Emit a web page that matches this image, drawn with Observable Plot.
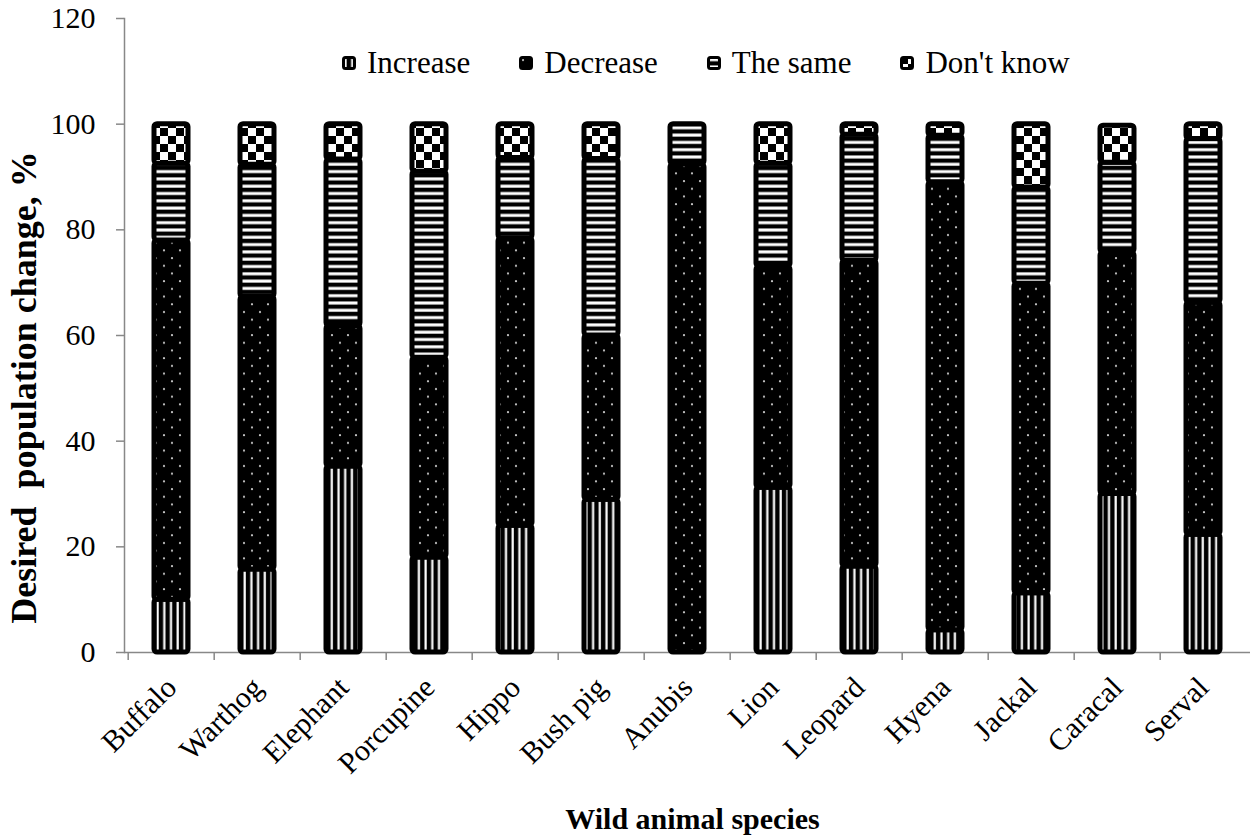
<!DOCTYPE html>
<html>
<head>
<meta charset="utf-8">
<script src="https://cdn.jsdelivr.net/npm/d3@7"></script>
<script src="https://cdn.jsdelivr.net/npm/@observablehq/plot@0.6"></script>
<style>
  html, body { margin: 0; padding: 0; background: #fff; }
  #wrap { position: relative; width: 1251px; height: 838px; font-family: "Liberation Serif", "Times New Roman", serif; }
  #wrap svg text { white-space: pre; }
  #legend { position: absolute; left: 342px; top: 45px; display: flex; align-items: center; font-family: "Liberation Serif", serif; font-size: 31px; color: #000; }
  #legend .item { display: flex; align-items: center; margin-right: 49px; }
  #legend .item svg { margin-right: 11px; }
</style>
</head>
<body>
<svg width="0" height="0" style="position:absolute">
  <defs>
    <pattern id="pInc" patternUnits="userSpaceOnUse" width="6.7" height="10">
      <rect width="6.7" height="10" fill="#000"/>
      <rect x="2.4" width="2.2" height="10" fill="#fff"/>
    </pattern>
    <pattern id="pDec" patternUnits="userSpaceOnUse" width="16" height="15.4">
      <rect width="16" height="15.4" fill="#000"/>
      <circle cx="4" cy="4" r="1.1" fill="#ccc"/>
      <circle cx="12" cy="11.7" r="1.1" fill="#ccc"/>
    </pattern>
    <pattern id="pSame" patternUnits="userSpaceOnUse" width="10" height="7.3">
      <rect width="10" height="7.3" fill="#000"/>
      <rect y="2.2" width="10" height="3" fill="#fff"/>
    </pattern>
    <pattern id="pDk" patternUnits="userSpaceOnUse" width="16" height="16">
      <rect width="16" height="16" fill="#fff"/>
      <rect width="8" height="8" fill="#000"/>
      <rect x="8" y="8" width="8" height="8" fill="#000"/>
    </pattern>
  </defs>
</svg>
<div id="wrap">
  <div id="legend"></div>
</div>
<script>
const species = ["Buffalo", "Warthog", "Elephant", "Porcupine", "Hippo", "Bush pig", "Anubis", "Lion", "Leopard", "Hyena", "Jackal", "Caracal", "Serval"];
const seriesNames = ["Increase", "Decrease", "The same", "Don't know"];
const increase = [10, 15.7, 35.2, 18, 24, 28.9, 0, 31.2, 16.3, 4.2, 11.2, 30, 22.3];
const decrease = [68, 51.6, 26.6, 37.8, 54.4, 31.1, 92.4, 41.8, 57.8, 84.8, 58.6, 45.7, 43.9];
const theSame  = [14.5, 25, 31.5, 35.2, 15.2, 33.4, 7.6, 19.5, 23.9, 8.8, 18.2, 17, 31];
const dontKnow = [7.5, 7.7, 6.7, 9, 6.4, 6.6, 0, 7.5, 2, 2.2, 12, 7, 2.8];
const yTicks = [0, 20, 40, 60, 80, 100, 120];
const patternFills = ["url(#pInc)", "url(#pDec)", "url(#pSame)", "url(#pDk)"];

const seriesValues = [increase, decrease, theSame, dontKnow];
const data = [];
species.forEach((s, i) => {
  seriesNames.forEach((name, k) => {
    data.push({species: s, series: name, value: seriesValues[k][i]});
  });
});

const W = 1251, H = 838, mL = 124, mR = 1, mT = 18, mB = 186;
const step = (W - mL - mR) / species.length;

const chart = Plot.plot({
  width: W,
  height: H,
  marginLeft: mL,
  marginRight: mR,
  marginTop: mT,
  marginBottom: mB,
  style: {fontFamily: "'Liberation Serif', 'Times New Roman', serif", fontSize: "29px", color: "#000", background: "#fff"},
  x: {domain: species, paddingInner: 0.6, paddingOuter: 0.3, label: null},
  y: {domain: [0, 120], label: null},
  color: {domain: seriesNames, range: patternFills},
  marks: [
    Plot.frame({anchor: "left", stroke: "#888", strokeWidth: 1.5}),
    Plot.ruleY([0], {stroke: "#888", strokeWidth: 1.5}),
    Plot.axisY({ticks: yTicks, tickSize: 8, text: null, stroke: "#888", strokeWidth: 1.5, label: null}),
    Plot.axisY({ticks: yTicks, tickSize: 0, tickPadding: 29, fontSize: 30, fill: "#000", label: null}),
    Plot.axisX({tickSize: 8, text: null, dx: -step / 2, stroke: "#888", strokeWidth: 1.5, label: null}),
    Plot.axisX({tickSize: 0, tickPadding: 30, tickRotate: -45, fontSize: 30, fill: "#000", label: null}),
    Plot.barY(data.filter(d => d.value > 0), {x: "species", y: "value", fill: "series", stroke: "#000", strokeWidth: 5, rx: 3}),
    Plot.text(["Wild animal species"], {frameAnchor: "bottom", lineAnchor: "middle", dy: 167, dx: 5, fontSize: 30, fontWeight: "bold"}),
    Plot.text(["Desired  population change, %"], {frameAnchor: "left", textAnchor: "middle", lineAnchor: "middle", rotate: -90, dx: -100, dy: 52, fontSize: 36, fontWeight: "bold"})
  ]
});
document.getElementById("wrap").appendChild(chart);

const legend = document.getElementById("legend");
seriesNames.forEach((name, k) => {
  const item = document.createElement("div");
  item.className = "item";
  item.innerHTML = `<svg width="14" height="14"><rect x="1.5" y="1.5" width="11" height="11" rx="2" fill="${patternFills[k]}" stroke="#000" stroke-width="3"/></svg><span>${name}</span>`;
  legend.appendChild(item);
});
</script>
</body>
</html>
